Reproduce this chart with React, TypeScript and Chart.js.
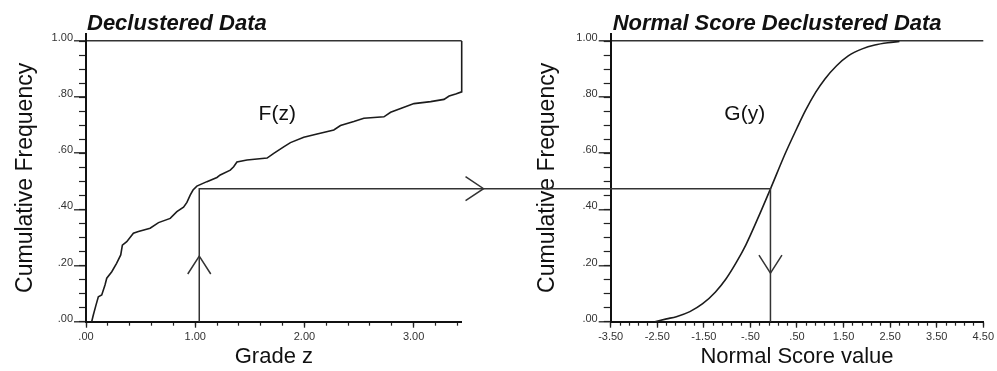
import React, { useEffect, useRef } from "react";
import { Chart, registerables } from "chart.js";

Chart.register(...registerables);

// ---- Data ----
const gradeValues = [
  0.052, 0.067, 0.092, 0.113, 0.144, 0.174, 0.19, 0.236, 0.28, 0.318, 0.333, 0.373, 0.434, 0.48, 0.587,
  0.664, 0.771, 0.832, 0.893, 0.924, 0.954, 0.98, 1.015, 1.107, 1.199, 1.229, 1.321, 1.352, 1.382, 1.474,
  1.658, 1.719, 1.81, 1.872, 1.994, 2.116, 2.269, 2.33, 2.452, 2.544, 2.728, 2.789, 2.881, 3.003, 3.156,
  3.278, 3.325, 3.385, 3.44, 3.44,
];
const gradeFreq = [
  0.0, 0.024, 0.06, 0.089, 0.095, 0.131, 0.155, 0.178, 0.208, 0.238, 0.273, 0.285, 0.315, 0.321, 0.333,
  0.353, 0.368, 0.392, 0.408, 0.425, 0.451, 0.469, 0.483, 0.499, 0.514, 0.523, 0.54, 0.552, 0.569, 0.576,
  0.583, 0.6, 0.623, 0.638, 0.657, 0.669, 0.683, 0.699, 0.713, 0.725, 0.73, 0.746, 0.76, 0.777, 0.784,
  0.792, 0.804, 0.811, 0.819, 1.0,
];
const scoreValues = [
  -2.55, -2.3, -2.09, -1.8, -1.525, -1.25, -1.03, -0.8, -0.6, -0.32, -0.07, 0.25, 0.5, 0.68, 0.9, 1.1,
  1.35, 1.6, 1.9, 2.17, 2.45, 2.7,
];
const scoreFreq = [
  0.0, 0.01, 0.018, 0.036, 0.064, 0.106, 0.151, 0.212, 0.273, 0.376, 0.473, 0.6, 0.69, 0.752, 0.817, 0.865,
  0.912, 0.947, 0.972, 0.986, 0.994, 0.998,
];

// transform (quantile mapping) shown by the connector
const cutGrade = 1.037;
const cutFreq = 0.474;
const cutScore = -0.07;
const upArrowFreq = 0.234;
const downArrowFreq = 0.173;
const rightArrowGrade = 3.64;

// axis ranges and tick steps
const freqRange = [0, 1.025];
const freqMajorStep = 0.2;
const freqMinorStep = 0.05;
const gradeRange = [0, 3.44];
const gradeMajorStep = 1;
const gradeMinorStep = 0.2;
const scoreRange = [-3.5, 4.5];
const scoreMajorStep = 1;
const scoreMinorStep = 0.2;

// texts
const leftTitle = "Declustered Data";
const rightTitle = "Normal Score Declustered Data";
const yAxisTitle = "Cumulative Frequency";
const leftXTitle = "Grade z";
const rightXTitle = "Normal Score value";
const leftCurveLabel = "F(z)";
const rightCurveLabel = "G(y)";
const leftLabelAt = [1.58, 0.718];
const rightLabelAt = [-1.06, 0.718];

const FONT = '"Liberation Sans", Arial, Helvetica, sans-serif';

const fmt = (v: number) => v.toFixed(2).replace(/^(-?)0\./, "$1.");

function buildScales(
  xRange: number[],
  xMajor: number,
  xMinor: number,
  xTitle: string,
  yWidth: number,
  yTitlePad: number
) {
  const tickFont = { family: FONT, size: 11 };
  return {
    x: {
      type: "linear",
      position: "bottom",
      weight: 1,
      min: xRange[0],
      max: xRange[1],
      afterFit: (s: any) => {
        s.height = 49.3;
      },
      border: { display: true, color: "#111", width: 2 },
      grid: { drawOnChartArea: false, drawTicks: true, tickLength: 6, tickColor: "#222", tickWidth: 1.3 },
      ticks: {
        stepSize: xMajor,
        includeBounds: false,
        autoSkip: false,
        maxRotation: 0,
        minRotation: 0,
        padding: 3,
        color: "#333",
        font: tickFont,
        callback: (v: any) => fmt(Number(v)),
      },
      title: {
        display: true,
        text: xTitle,
        color: "#111",
        font: { family: FONT, size: 22 },
        padding: { top: 0, bottom: 1 },
      },
    },
    xMinor: {
      type: "linear",
      position: "bottom",
      weight: 0,
      min: xRange[0],
      max: xRange[1],
      afterFit: (s: any) => {
        s.height = 0;
      },
      border: { display: false },
      grid: { drawOnChartArea: false, drawTicks: true, tickLength: 4, tickColor: "#222", tickWidth: 1.2 },
      ticks: { stepSize: xMinor, includeBounds: false, autoSkip: false, maxRotation: 0, callback: () => "" },
    },
    y: {
      type: "linear",
      position: "left",
      weight: 1,
      min: freqRange[0],
      max: freqRange[1],
      afterFit: (s: any) => {
        s.width = yWidth;
      },
      border: { display: true, color: "#111", width: 2 },
      grid: {
        drawOnChartArea: true,
        drawTicks: true,
        tickLength: 12,
        tickColor: "#222",
        tickWidth: 1.3,
        lineWidth: 1.6,
        color: (ctx: any) =>
          ctx.tick && Math.abs(ctx.tick.value - 1) < 1e-9 ? "#333" : "rgba(0,0,0,0)",
      },
      ticks: {
        stepSize: freqMajorStep,
        includeBounds: false,
        autoSkip: false,
        padding: 1,
        labelOffset: -3,
        color: "#333",
        font: tickFont,
        callback: (v: any) => fmt(Number(v)),
      },
      title: {
        display: true,
        text: yAxisTitle,
        color: "#111",
        font: { family: FONT, size: 23 },
        padding: { top: yTitlePad, bottom: 0 },
      },
    },
    yMinor: {
      type: "linear",
      position: "left",
      weight: 0,
      min: freqRange[0],
      max: freqRange[1],
      afterFit: (s: any) => {
        s.width = 0;
      },
      border: { display: false },
      grid: { drawOnChartArea: false, drawTicks: true, tickLength: 7, tickColor: "#222", tickWidth: 1.2 },
      ticks: { stepSize: freqMinorStep, includeBounds: false, autoSkip: false, callback: () => "" },
    },
  };
}

function stroke(ctx: CanvasRenderingContext2D, pts: number[][]) {
  ctx.beginPath();
  ctx.moveTo(pts[0][0], pts[0][1]);
  for (let i = 1; i < pts.length; i++) ctx.lineTo(pts[i][0], pts[i][1]);
  ctx.stroke();
}

export default function App() {
  const leftRef = useRef<HTMLCanvasElement>(null);
  const rightRef = useRef<HTMLCanvasElement>(null);

  useEffect(() => {
    const leftPlugin = {
      id: "leftDecor",
      afterDatasetsDraw(chart: any) {
        const { ctx, chartArea } = chart;
        const x = chart.scales.x;
        const y = chart.scales.y;
        const px = x.getPixelForValue(cutGrade);
        const py = y.getPixelForValue(cutFreq);
        const p0 = y.getPixelForValue(0);
        ctx.save();
        ctx.strokeStyle = "#333";
        ctx.lineWidth = 1.5;
        stroke(ctx, [
          [px, p0],
          [px, py],
          [chart.width, py],
        ]);
        const ay = y.getPixelForValue(upArrowFreq);
        stroke(ctx, [
          [px - 11.5, ay + 18],
          [px, ay],
          [px + 11.5, ay + 18],
        ]);
        const ax = x.getPixelForValue(rightArrowGrade);
        stroke(ctx, [
          [ax - 18, py - 12],
          [ax, py],
          [ax - 18, py + 12],
        ]);
        ctx.fillStyle = "#111";
        ctx.textBaseline = "alphabetic";
        ctx.textAlign = "left";
        ctx.font = `italic bold 22px ${FONT}`;
        ctx.fillText(leftTitle, chartArea.left + 1, 30);
        ctx.font = `21px ${FONT}`;
        ctx.fillText(leftCurveLabel, x.getPixelForValue(leftLabelAt[0]), y.getPixelForValue(leftLabelAt[1]));
        ctx.restore();
      },
    };

    const rightPlugin = {
      id: "rightDecor",
      afterDatasetsDraw(chart: any) {
        const { ctx, chartArea } = chart;
        const x = chart.scales.x;
        const y = chart.scales.y;
        const px = x.getPixelForValue(cutScore);
        const py = y.getPixelForValue(cutFreq);
        const p0 = y.getPixelForValue(0);
        ctx.save();
        ctx.strokeStyle = "#333";
        ctx.lineWidth = 1.5;
        stroke(ctx, [
          [0, py],
          [px, py],
          [px, p0],
        ]);
        const ay = y.getPixelForValue(downArrowFreq);
        stroke(ctx, [
          [px - 11.5, ay - 18],
          [px, ay],
          [px + 11.5, ay - 18],
        ]);
        ctx.fillStyle = "#111";
        ctx.textBaseline = "alphabetic";
        ctx.textAlign = "left";
        ctx.font = `italic bold 22px ${FONT}`;
        ctx.fillText(rightTitle, chartArea.left + 2, 29.5);
        ctx.font = `21px ${FONT}`;
        ctx.fillText(rightCurveLabel, x.getPixelForValue(rightLabelAt[0]), y.getPixelForValue(rightLabelAt[1]));
        ctx.restore();
      },
    };

    const lineDataset = (xs: number[], ys: number[], smooth: boolean) => ({
      data: xs.map((v, i) => ({ x: v, y: ys[i] })),
      showLine: true,
      borderColor: "#1c1c1c",
      borderWidth: 1.6,
      pointRadius: 0,
      tension: smooth ? 0.4 : 0,
      cubicInterpolationMode: smooth ? "monotone" : "default",
      xAxisID: "x",
      yAxisID: "y",
      clip: 6,
    });

    const common = {
      responsive: false,
      animation: false,
      devicePixelRatio: 1,
      plugins: { legend: { display: false }, tooltip: { enabled: false }, title: { display: false } },
      events: [],
    };

    const left = new Chart(leftRef.current as HTMLCanvasElement, {
      type: "scatter",
      data: { datasets: [lineDataset(gradeValues, gradeFreq, false) as any] },
      options: {
        ...common,
        layout: { padding: { left: 0, right: 38.3, top: 34, bottom: 0 } },
        scales: buildScales(gradeRange, gradeMajorStep, gradeMinorStep, leftXTitle, 86, 11.5) as any,
      } as any,
      plugins: [leftPlugin],
    });

    const right = new Chart(rightRef.current as HTMLCanvasElement, {
      type: "scatter",
      data: { datasets: [lineDataset(scoreValues, scoreFreq, true) as any] },
      options: {
        ...common,
        layout: { padding: { left: 0, right: 11, top: 34, bottom: 0 } },
        scales: buildScales(scoreRange, scoreMajorStep, scoreMinorStep, rightXTitle, 110.7, 33.7) as any,
      } as any,
      plugins: [rightPlugin],
    });

    return () => {
      left.destroy();
      right.destroy();
    };
  }, []);

  return (
    <div style={{ position: "absolute", left: 0, top: 0, width: 997, height: 371, background: "#fff" }}>
      <canvas
        ref={leftRef}
        width={500}
        height={371}
        style={{ position: "absolute", left: 0, top: 0, width: 500, height: 371 }}
      />
      <canvas
        ref={rightRef}
        width={497}
        height={371}
        style={{ position: "absolute", left: 500, top: 0, width: 497, height: 371 }}
      />
    </div>
  );
}
